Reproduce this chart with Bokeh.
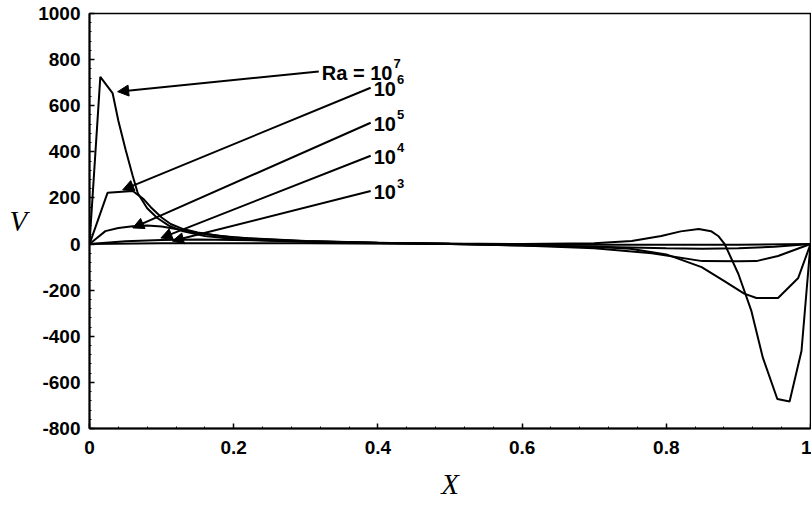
from bokeh.plotting import figure
from bokeh.models import ColumnDataSource, Arrow, NormalHead, FixedTicker, Range1d
from bokeh.core.properties import value
from bokeh.embed import file_html
from bokeh.resources import INLINE

# ---------------- data ----------------
x_ra7 = [0, 0.015, 0.032, 0.04, 0.05, 0.06, 0.067, 0.08, 0.094, 0.11, 0.13, 0.16, 0.2, 0.25,
         0.3, 0.4, 0.5, 0.6, 0.7, 0.752, 0.793, 0.82, 0.845, 0.862, 0.872, 0.881, 0.9, 0.918,
         0.934, 0.954, 0.971, 0.9875, 1.0]
v_ra7 = [0, 725, 655, 535, 410, 295, 220, 155, 113, 80, 55, 35, 22, 14,
         10, 5, 2, 0, 3, 13, 35, 55, 65, 56, 35, 0, -130, -290,
         -494, -672, -683, -464, 0]

x_ra6 = [0, 0.025, 0.06, 0.075, 0.085, 0.1, 0.1125, 0.13, 0.15, 0.18, 0.22, 0.3, 0.4, 0.5,
         0.6, 0.7, 0.75, 0.8, 0.849, 0.88, 0.908, 0.925, 0.955, 0.983, 1.0]
v_ra6 = [0, 222, 230, 195, 160, 115, 87, 65, 50, 35, 25, 13, 6, 1,
         -4, -12, -20, -45, -100, -160, -215, -234, -234, -147, 0]

x_ra5 = [0, 0.022, 0.04, 0.06, 0.08, 0.1, 0.12, 0.15, 0.2, 0.3, 0.4, 0.5, 0.6, 0.7,
         0.78, 0.85, 0.9, 0.925, 0.955, 1.0]
v_ra5 = [0, 56, 70, 77, 80, 76, 65, 48, 28, 12, 5, 0, -6, -18,
         -40, -74, -75, -74, -52, 0]

x_ra4 = [0, 0.05, 0.1, 0.15, 0.2, 0.3, 0.4, 0.5, 0.6, 0.7, 0.8, 0.85, 0.9, 0.95, 1.0]
v_ra4 = [0, 12, 18, 20, 18, 12, 6, 0, -6, -12, -18, -20, -18, -12, 0]

x_ra3 = [0, 0.1, 0.2, 0.3, 0.5, 0.7, 0.8, 0.9, 1.0]
v_ra3 = [0, 3, 3.5, 3, 0, -3, -3.5, -3, 0]

x_ticks = [0, 0.2, 0.4, 0.6, 0.8, 1.0]
x_tick_labels = ["0", "0.2", "0.4", "0.6", "0.8", "1"]
y_ticks = [-800, -600, -400, -200, 0, 200, 400, 600, 800, 1000]
y_tick_labels = ["-800", "-600", "-400", "-200", "0", "200", "400", "600", "800", "1000"]

ann_base = ["Ra = 10", "10", "10", "10", "10"]
ann_exp = ["7", "6", "5", "4", "3"]
ann_tail_x = [0.318, 0.390, 0.390, 0.390, 0.390]
ann_tail_v = [748, 678, 526, 383, 230]
ann_head_x = [0.039, 0.046, 0.060, 0.099, 0.115]
ann_head_v = [661, 235, 70, 26, 13]

# ---------------- figure ----------------
p = figure(width=811, height=506, output_backend="svg", toolbar_location=None,
           x_range=Range1d(0, 1), y_range=Range1d(-800, 1000),
           min_border_left=89, min_border_right=1, min_border_top=13, min_border_bottom=78)
p.background_fill_color = "white"
p.border_fill_color = "white"
p.outline_line_color = "black"
p.outline_line_width = 1.5
p.xgrid.visible = False
p.ygrid.visible = False

for xs, vs in [(x_ra7, v_ra7), (x_ra6, v_ra6), (x_ra5, v_ra5), (x_ra4, v_ra4), (x_ra3, v_ra3)]:
    p.line(xs, vs, line_color="black", line_width=2)

# arrows
arr_src = ColumnDataSource(dict(x0=ann_tail_x, y0=ann_tail_v, x1=ann_head_x, y1=ann_head_v))
p.add_layout(Arrow(source=arr_src, x_start="x0", y_start="y0", x_end="x1", y_end="y1",
                   line_color="black", line_width=2,
                   end=NormalHead(size=11, fill_color="black", line_color="black", line_width=1)))

# annotation texts with superscripts
BOLD_W = {"R": 0.722, "a": 0.556, " ": 0.278, "=": 0.584, "1": 0.556, "0": 0.556}
fs = 20
base_dx = 3
exp_dx = [base_dx + sum(BOLD_W.get(c, 0.556) for c in s) * fs + 1 for s in ann_base]
txt_src = ColumnDataSource(dict(x=ann_tail_x, y=ann_tail_v, base=ann_base, exp=ann_exp, edx=exp_dx))
p.text(x="x", y="y", text="base", source=txt_src, x_offset=base_dx, y_offset=1,
       text_font=value("Liberation Sans"), text_font_style="bold", text_font_size=f"{fs}px",
       text_baseline="middle", text_align="left", text_color="black")
p.text(x="x", y="y", text="exp", source=txt_src, x_offset="edx", y_offset=-8,
       text_font=value("Liberation Sans"), text_font_style="bold", text_font_size="13px",
       text_baseline="middle", text_align="left", text_color="black")

# axes
for ax in (p.xaxis[0], p.yaxis[0]):
    ax.axis_line_color = "black"
    ax.axis_line_width = 2
    ax.major_tick_in = 5
    ax.major_tick_out = 0
    ax.minor_tick_in = 2
    ax.minor_tick_out = 0
    ax.major_tick_line_width = 1.5
    ax.major_label_text_font = "Liberation Sans"
    ax.major_label_text_font_style = "bold"
    ax.major_label_text_font_size = "19px"
    ax.major_label_text_color = "black"
    ax.axis_label_text_font = "Liberation Serif"
    ax.axis_label_text_font_style = "italic"
    ax.axis_label_text_font_size = "29px"
    ax.axis_label_text_color = "black"

p.xaxis.ticker = FixedTicker(ticks=x_ticks, minor_ticks=[i * 0.04 for i in range(26)])
p.xaxis.major_label_overrides = {t: l for t, l in zip(x_ticks, x_tick_labels)}
p.yaxis.ticker = FixedTicker(ticks=y_ticks, minor_ticks=list(range(-800, 1001, 40)))
p.yaxis.major_label_overrides = {t: l for t, l in zip(y_ticks, y_tick_labels)}
p.xaxis.major_label_standoff = 12
p.yaxis.major_label_standoff = 9
p.xaxis.axis_label = "X"
p.yaxis.axis_label = "V"
p.yaxis.axis_label_orientation = "horizontal"
p.xaxis.axis_label_standoff = 11
p.yaxis.axis_label_standoff = 8

open("out.html", "w").write(file_html(p, INLINE))
